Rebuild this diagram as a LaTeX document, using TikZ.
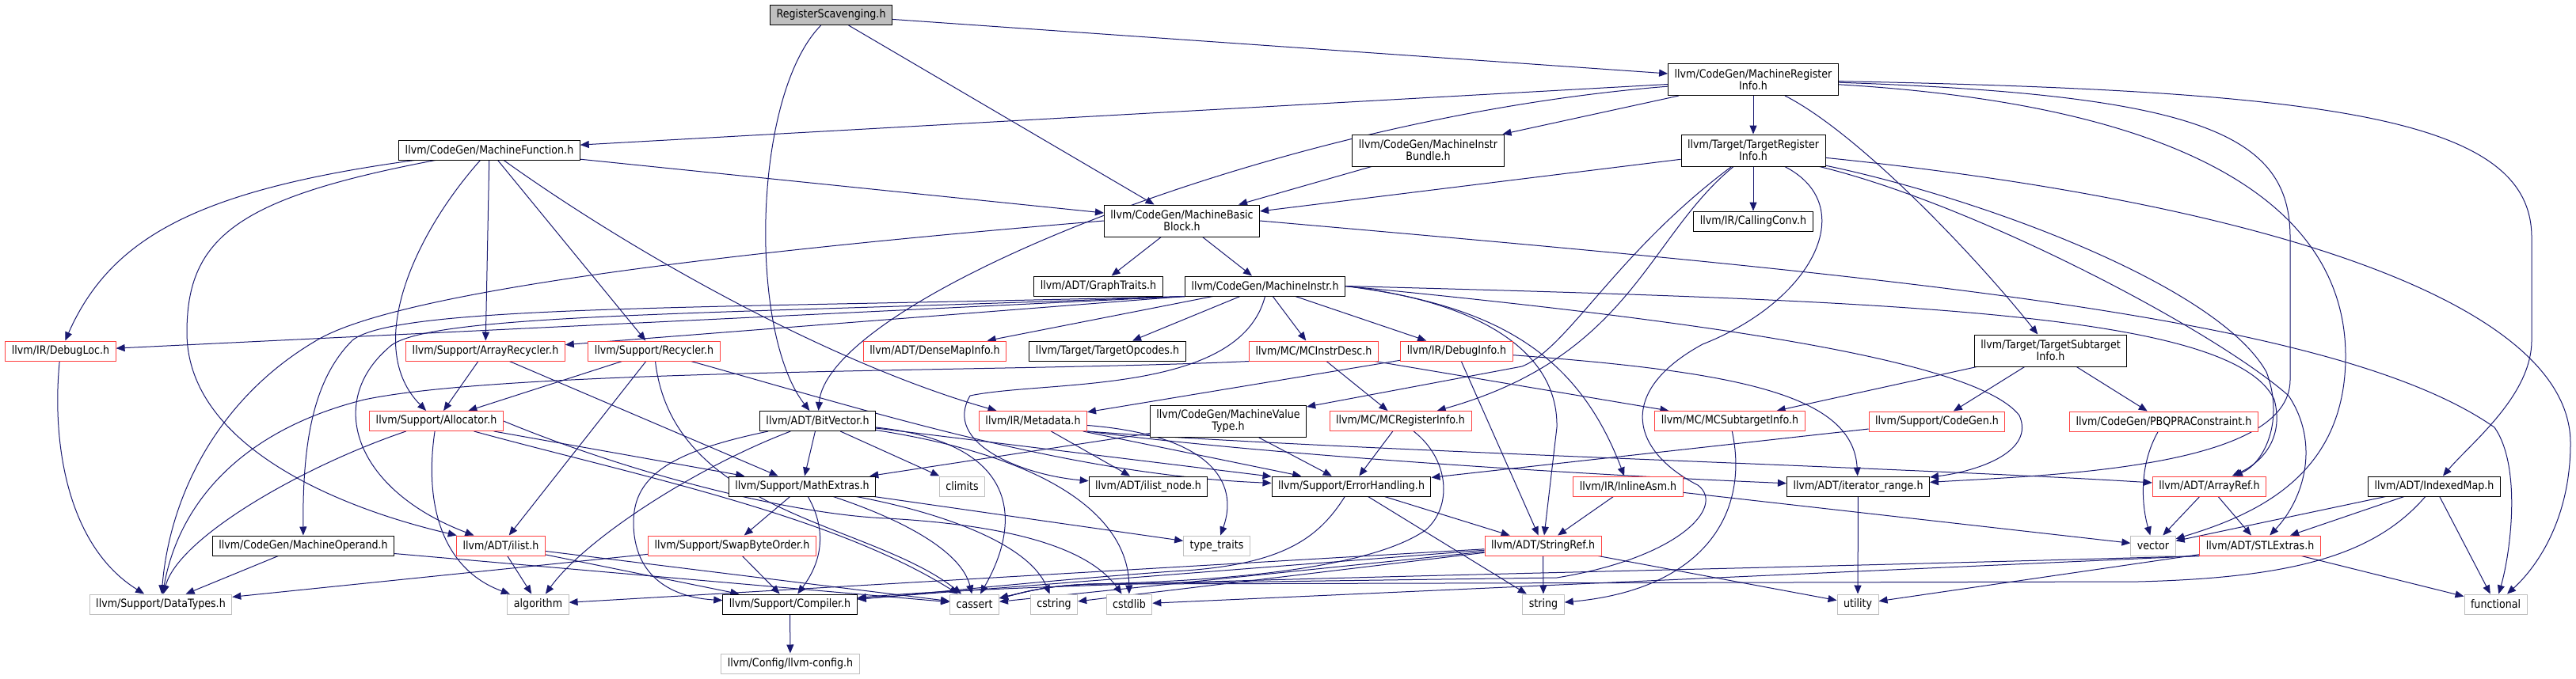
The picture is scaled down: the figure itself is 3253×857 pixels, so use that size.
\documentclass[tikz,border=0pt]{standalone}
\usepackage{fontspec}
\setmainfont{DejaVu Sans}[FakeStretch=0.88]
\usetikzlibrary{arrows.meta, backgrounds}
\definecolor{dxedge}{HTML}{191970}
\definecolor{dxred}{HTML}{FF4040}
\definecolor{dxgrey}{HTML}{BFBFBF}

\begin{document}
\begin{tikzpicture}[
  x=1pt, y=-1pt,
  every node/.style={font=\fontsize{14.4}{15}\selectfont},
  hnode/.style={rectangle, draw=black, fill=white, line width=1pt, inner xsep=8pt, inner ysep=3pt, minimum height=25pt, align=center},
  rootnode/.style={hnode, fill=dxgrey},
  cutnode/.style={hnode, draw=dxred},
  sysnode/.style={hnode, draw=dxgrey},
  twoline/.style={minimum height=40pt},
  dep/.style={-{Triangle[length=11pt, width=9pt]}, draw=dxedge, line width=1pt},
]
\useasboundingbox (0,0) rectangle (3253,857);
\node[rootnode] (rs) at (1049.5,19) {RegisterScavenging.h};
\node[hnode, twoline] (mri) at (2214,100.5) {llvm/CodeGen/MachineRegister\\Info.h};
\node[hnode] (mf) at (618,189.5) {llvm/CodeGen/MachineFunction.h};
\node[hnode, twoline] (bundle) at (1803.5,190) {llvm/CodeGen/MachineInstr\\Bundle.h};
\node[hnode, twoline] (tri) at (2214,190) {llvm/Target/TargetRegister\\Info.h};
\node[hnode, twoline] (mbb) at (1492.5,279) {llvm/CodeGen/MachineBasic\\Block.h};
\node[hnode] (callconv) at (2214,279.5) {llvm/IR/CallingConv.h};
\node[hnode] (graphtraits) at (1387,361.5) {llvm/ADT/GraphTraits.h};
\node[hnode] (minstr) at (1597.5,361.5) {llvm/CodeGen/MachineInstr.h};
\node[cutnode] (debugloc) at (76.5,443.5) {llvm/IR/DebugLoc.h};
\node[cutnode] (arecycler) at (613,443.5) {llvm/Support/ArrayRecycler.h};
\node[cutnode] (recycler) at (826,443.5) {llvm/Support/Recycler.h};
\node[cutnode] (densemap) at (1180.5,443.5) {llvm/ADT/DenseMapInfo.h};
\node[hnode] (topcodes) at (1398.5,443.5) {llvm/Target/TargetOpcodes.h};
\node[cutnode] (mcinstr) at (1659,443.5) {llvm/MC/MCInstrDesc.h};
\node[cutnode] (debuginfo) at (1839.5,443.5) {llvm/IR/DebugInfo.h};
\node[hnode, twoline] (tsi) at (2589.5,443) {llvm/Target/TargetSubtarget\\Info.h};
\node[cutnode] (allocator) at (551,532) {llvm/Support/Allocator.h};
\node[hnode] (bitvector) at (1032.5,532) {llvm/ADT/BitVector.h};
\node[cutnode] (metadata) at (1304.5,532) {llvm/IR/Metadata.h};
\node[hnode, twoline] (mvt) at (1551,532.5) {llvm/CodeGen/MachineValue\\Type.h};
\node[cutnode] (mcreg) at (1768.5,532) {llvm/MC/MCRegisterInfo.h};
\node[cutnode] (mcsub) at (2184.5,532) {llvm/MC/MCSubtargetInfo.h};
\node[cutnode] (scodegen) at (2446,532.5) {llvm/Support/CodeGen.h};
\node[cutnode] (pbqp) at (2732.5,532.5) {llvm/CodeGen/PBQPRAConstraint.h};
\node[hnode] (mathextras) at (1013,614.5) {llvm/Support/MathExtras.h};
\node[sysnode] (climits) at (1215,614.5) {climits};
\node[hnode] (ilistnode) at (1450,614.5) {llvm/ADT/ilist\_node.h};
\node[hnode] (errhandling) at (1706.5,614.5) {llvm/Support/ErrorHandling.h};
\node[cutnode] (inlineasm) at (2056,614.5) {llvm/IR/InlineAsm.h};
\node[hnode] (itrange) at (2346.5,614.5) {llvm/ADT/iterator\_range.h};
\node[cutnode] (arrayref) at (2790,614.5) {llvm/ADT/ArrayRef.h};
\node[hnode] (indexedmap) at (3074,614.5) {llvm/ADT/IndexedMap.h};
\node[hnode] (moperand) at (383,689.5) {llvm/CodeGen/MachineOperand.h};
\node[cutnode] (ilist) at (632.5,689.5) {llvm/ADT/ilist.h};
\node[cutnode] (swapbyte) at (924.5,689.5) {llvm/Support/SwapByteOrder.h};
\node[sysnode] (typetraits) at (1536.5,689.5) {type\_traits};
\node[cutnode] (stringref) at (1948.5,689.5) {llvm/ADT/StringRef.h};
\node[sysnode] (vector) at (2719,689.5) {vector};
\node[cutnode] (stlextras) at (2854,689.5) {llvm/ADT/STLExtras.h};
\node[sysnode] (datatypes) at (203,763.5) {llvm/Support/DataTypes.h};
\node[sysnode] (algorithm) at (679.5,763.5) {algorithm};
\node[hnode] (compiler) at (997.5,763.5) {llvm/Support/Compiler.h};
\node[sysnode] (cassert) at (1230.5,763.5) {cassert};
\node[sysnode] (cstring) at (1331,763.5) {cstring};
\node[sysnode] (cstdlib) at (1426,763.5) {cstdlib};
\node[sysnode] (string) at (1949,763.5) {string};
\node[sysnode] (utility) at (2346,763.5) {utility};
\node[sysnode] (functional) at (3151.5,763.5) {functional};
\node[sysnode] (llvmconfig) at (998,838.5) {llvm/Config/llvm-config.h};

\begin{scope}[on background layer]
\fill[white] (0,0) rectangle (3253,857);
\draw[dep] (rs) -- (mri);
\draw[dep] (rs) -- (mbb);
\draw[dep] (rs) .. controls (950,120) and (945,420) .. (bitvector);
\draw[dep] (mri) -- (mf);
\draw[dep] (mri) .. controls (1600,150) and (1045,380) .. (bitvector);
\draw[dep] (mri) -- (bundle);
\draw[dep] (mri) -- (tri);
\draw[dep] (mri) .. controls (2350,170) and (2500,330) .. (tsi);
\draw[dep] (mri) .. controls (2780,120) and (2892,170) .. (2892,300) -- (2892,480) .. controls (2892,590) and (2600,600) .. (itrange);
\draw[dep] (mri) .. controls (2800,135) and (2962,280) .. (2962,450) .. controls (2962,600) and (2850,650) .. (vector);
\draw[dep] (mri) .. controls (2950,115) and (3197,150) .. (3197,300) -- (3197,430) .. controls (3197,500) and (3120,560) .. (indexedmap);
\draw[dep] (mf) .. controls (250,240) and (140,300) .. (debugloc);
\draw[dep] (mf) .. controls (300,250) and (236,300) .. (236,420) .. controls (236,560) and (420,640) .. (ilist);
\draw[dep] (mf) .. controls (520,300) and (460,440) .. (allocator);
\draw[dep] (mf) -- (arecycler);
\draw[dep] (mf) -- (recycler);
\draw[dep] (mf) .. controls (800,320) and (1050,460) .. (metadata);
\draw[dep] (mf) -- (mbb);
\draw[dep] (bundle) -- (mbb);
\draw[dep] (tri) -- (mbb);
\draw[dep] (tri) .. controls (2040,320) and (1980,440) .. (1922,463) -- (mvt);
\draw[dep] (tri) .. controls (2080,300) and (2060,450) .. (mcreg);
\draw[dep] (tri) -- (callconv);
\draw[dep] (tri) .. controls (2350,260) and (2290,380) .. (2150,435) .. controls (2040,495) and (2060,570) .. (2144,613) .. controls (2180,640) and (2120,705) .. (1966,730) -- (1380,738) .. controls (1320,740) and (1295,748) .. (cassert);
\draw[dep] (tri) .. controls (2500,250) and (2800,360) .. (2862,470) .. controls (2885,530) and (2860,585) .. (arrayref);
\draw[dep] (tri) .. controls (2500,260) and (2800,420) .. (2890,500) .. controls (2930,560) and (2910,630) .. (stlextras);
\draw[dep] (tri) .. controls (2850,255) and (3246,380) .. (3246,560) .. controls (3246,660) and (3200,720) .. (functional);
\draw[dep] (mbb) -- (graphtraits);
\draw[dep] (mbb) -- (minstr);
\draw[dep] (mbb.west) .. controls (900,320) and (500,370) .. (400,430) .. controls (280,500) and (215,620) .. (datatypes);
\draw[dep] (mbb.east) .. controls (2400,350) and (2950,400) .. (3150,540) .. controls (3185,590) and (3170,700) .. (functional);
\draw[dep] (tsi) -- (mcsub);
\draw[dep] (tsi) -- (scodegen);
\draw[dep] (tsi) -- (pbqp);
\draw[dep] (minstr.south west) -- (debugloc);
\draw[dep] (minstr.south west) -- (arecycler);
\draw[dep] (minstr.south west) .. controls (900,390) and (500,385) .. (445,430) .. controls (395,480) and (382,560) .. (moperand);
\draw[dep] (minstr.south west) .. controls (900,398) and (530,395) .. (490,440) .. controls (410,510) and (450,620) .. (ilist);
\draw[dep] (minstr) -- (densemap);
\draw[dep] (minstr) -- (topcodes);
\draw[dep] (minstr) -- (mcinstr);
\draw[dep] (minstr) -- (debuginfo);
\draw[dep] (minstr.south) .. controls (1565,500) and (1320,480) .. (1225,500) .. controls (1190,560) and (1290,600) .. (ilistnode);
\draw[dep] (minstr.east) .. controls (1880,385) and (1990,440) .. (inlineasm);
\draw[dep] (minstr.east) .. controls (1860,380) and (1968,440) .. (1966,540) -- (stringref);
\draw[dep] (minstr.east) .. controls (2200,410) and (2500,460) .. (2550,525) .. controls (2570,570) and (2500,595) .. (itrange);
\draw[dep] (minstr.east) .. controls (2400,380) and (2820,395) .. (2872,505) .. controls (2885,555) and (2855,585) .. (arrayref);
\draw[dep] (debugloc) .. controls (65,560) and (85,690) .. (datatypes);
\draw[dep] (arecycler) -- (allocator);
\draw[dep] (arecycler) -- (mathextras);
\draw[dep] (recycler) -- (allocator);
\draw[dep] (recycler) -- (ilist);
\draw[dep] (recycler) .. controls (850,650) and (1100,660) .. (cassert);
\draw[dep] (recycler) .. controls (1100,520) and (1350,600) .. (errhandling);
\draw[dep] (debuginfo) -- (metadata);
\draw[dep] (debuginfo) -- (stringref);
\draw[dep] (debuginfo) .. controls (2200,470) and (2340,500) .. (itrange);
\draw[dep] (mcinstr) -- (mcreg);
\draw[dep] (mcinstr) -- (mcsub);
\draw[dep] (mcinstr.south west) .. controls (1300,470) and (650,465) .. (460,505) .. controls (300,545) and (225,640) .. (datatypes);
\draw[dep] (allocator) .. controls (380,590) and (225,680) .. (datatypes);
\draw[dep] (allocator) -- (mathextras);
\draw[dep] (allocator) .. controls (535,640) and (560,720) .. (algorithm);
\draw[dep] (allocator) .. controls (800,600) and (1050,650) .. (cassert);
\draw[dep] (allocator.east) .. controls (800,600) and (1000,650) .. (1120,655) .. controls (1300,665) and (1380,700) .. (cstdlib);
\draw[dep] (bitvector) -- (mathextras);
\draw[dep] (bitvector) -- (climits);
\draw[dep] (bitvector) -- (errhandling);
\draw[dep] (bitvector) .. controls (850,570) and (800,600) .. (800,660) .. controls (800,730) and (850,755) .. (compiler);
\draw[dep] (bitvector) .. controls (880,590) and (740,680) .. (algorithm);
\draw[dep] (bitvector) .. controls (1290,560) and (1290,660) .. (cassert);
\draw[dep] (bitvector) .. controls (1340,580) and (1425,660) .. (cstdlib);
\draw[dep] (metadata) -- (ilistnode);
\draw[dep] (metadata) -- (errhandling);
\draw[dep] (metadata.south east) .. controls (1600,575) and (2000,600) .. (itrange);
\draw[dep] (metadata.south east) .. controls (1700,570) and (2400,590) .. (arrayref);
\draw[dep] (metadata) .. controls (1530,550) and (1565,610) .. (typetraits);
\draw[dep] (mvt) -- (mathextras);
\draw[dep] (mvt) -- (errhandling);
\draw[dep] (mcreg) -- (errhandling);
\draw[dep] (mcreg) .. controls (1830,580) and (1835,640) .. (1800,670) .. controls (1720,725) and (1500,735) .. (1380,738) .. controls (1320,740) and (1295,748) .. (cassert);
\draw[dep] (mcsub) .. controls (2210,650) and (2150,745) .. (string);
\draw[dep] (scodegen) -- (errhandling);
\draw[dep] (pbqp) .. controls (2700,590) and (2705,640) .. (vector);
\draw[dep] (mathextras) -- (swapbyte);
\draw[dep] (mathextras) .. controls (1050,680) and (1030,720) .. (compiler);
\draw[dep] (mathextras) .. controls (1150,660) and (1215,700) .. (cassert);
\draw[dep] (mathextras) .. controls (1200,650) and (1300,690) .. (cstring);
\draw[dep] (mathextras) -- (typetraits);
\draw[dep] (errhandling) -- (stringref);
\draw[dep] (errhandling) .. controls (1665,680) and (1620,715) .. (1480,722) .. controls (1300,735) and (1150,752) .. (compiler);
\draw[dep] (errhandling) -- (string);
\draw[dep] (inlineasm) -- (stringref);
\draw[dep] (inlineasm) -- (vector);
\draw[dep] (itrange) -- (utility);
\draw[dep] (arrayref) -- (vector);
\draw[dep] (arrayref) -- (stlextras);
\draw[dep] (indexedmap) -- (vector);
\draw[dep] (indexedmap) -- (stlextras);
\draw[dep] (indexedmap) .. controls (3000,700) and (2900,730) .. (2700,735) -- (1380,738) .. controls (1320,740) and (1295,748) .. (cassert);
\draw[dep] (indexedmap) -- (functional);
\draw[dep] (moperand) -- (datatypes);
\draw[dep] (moperand) -- (cassert);
\draw[dep] (ilist) -- (algorithm);
\draw[dep] (ilist) -- (compiler);
\draw[dep] (ilist) -- (cassert);
\draw[dep] (swapbyte) -- (compiler);
\draw[dep] (swapbyte) -- (datatypes);
\draw[dep] (stringref) -- (compiler);
\draw[dep] (stringref) -- (algorithm);
\draw[dep] (stringref) -- (cassert);
\draw[dep] (stringref) -- (cstring);
\draw[dep] (stringref) -- (string);
\draw[dep] (stringref) -- (utility);
\draw[dep] (stlextras.south west) .. controls (2000,725) and (1300,735) .. (compiler);
\draw[dep] (stlextras.south west) -- (cstdlib);
\draw[dep] (stlextras) -- (utility);
\draw[dep] (stlextras) -- (functional);
\draw[dep] (compiler) -- (llvmconfig);
\end{scope}
\end{tikzpicture}
\end{document}
